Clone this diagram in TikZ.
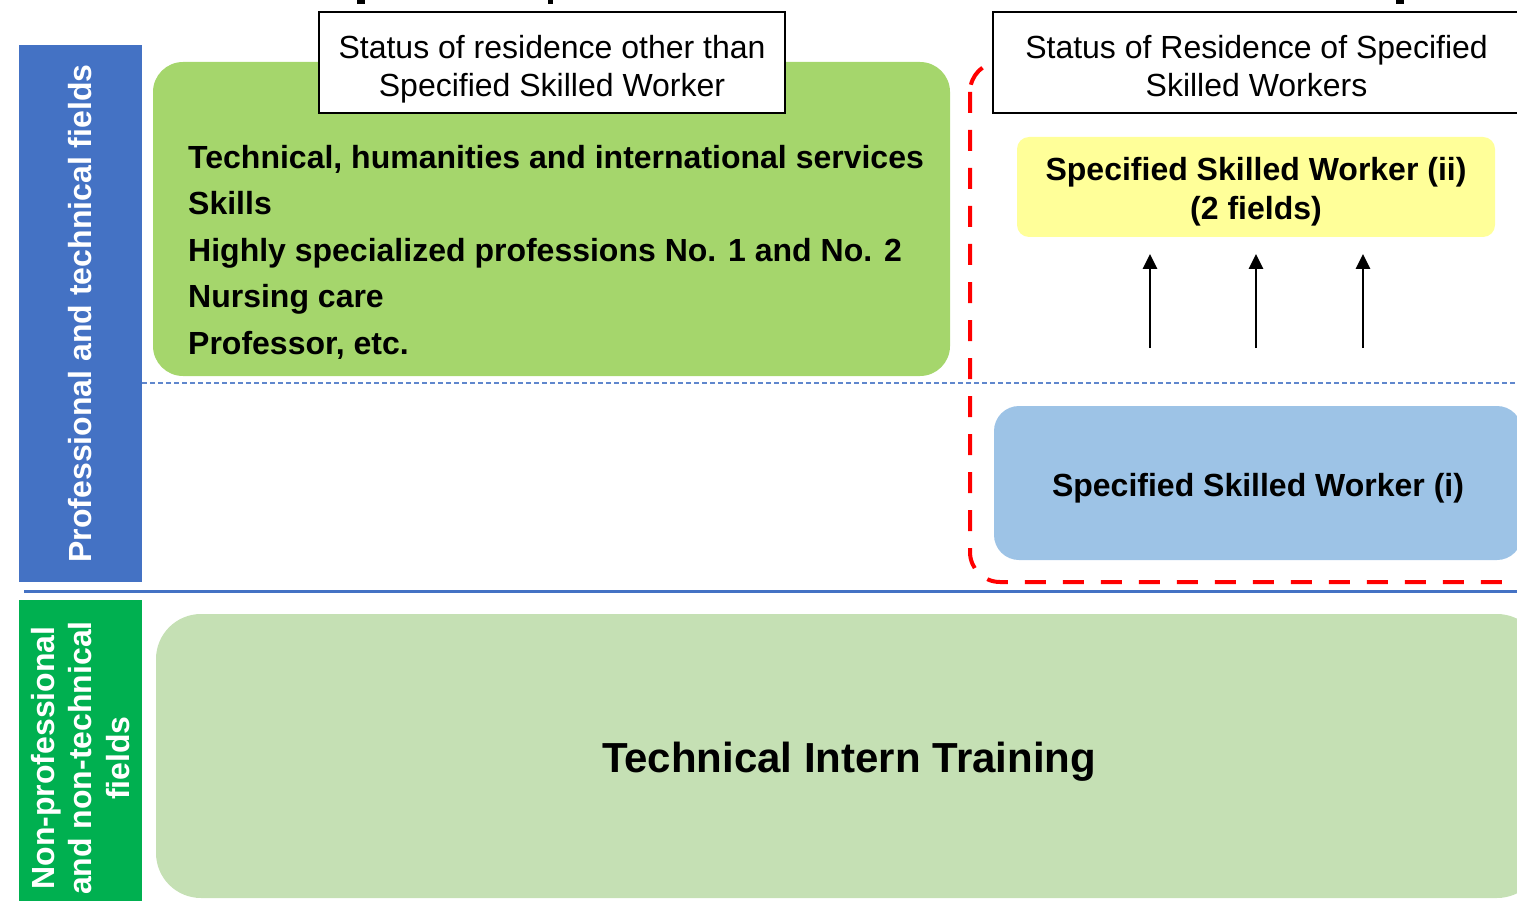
\documentclass[tikz,border=0pt]{standalone}
\usepackage{fontspec}
\setmainfont{Liberation Sans}
\usetikzlibrary{arrows.meta}
\usetikzlibrary{positioning}

\definecolor{profblue}{HTML}{4472C4}
\definecolor{nonprofgreen}{HTML}{00B050}
\definecolor{statusgreen}{HTML}{A5D66C}
\definecolor{internGreen}{HTML}{C5E0B4}
\definecolor{sswblue}{HTML}{9DC3E6}
\definecolor{sswyellow}{HTML}{FFFF99}

\begin{document}
\begin{tikzpicture}[>=Triangle, x=1pt, y=-1pt,
    field/.style={rotate=90, text=white, inner sep=0pt, align=center,
        font=\bfseries\fontsize{32}{37.5}\selectfont},
    header/.style={draw=black, line width=1.5pt, fill=white, inner sep=0pt},
    headertext/.style={align=center, inner sep=0pt, font=\fontsize{32}{38}\selectfont},
    statusbox/.style={rounded corners=#1, inner sep=0pt},
    statustext/.style={align=center, inner sep=0pt, font=\bfseries\fontsize{32}{39}\selectfont},
    uparrow/.style={->, line width=2.8pt, >={Triangle[length=15pt,width=14pt]}}]

    \useasboundingbox (0,0) rectangle (1517,901);
    \clip (0,0) rectangle (1517,901);

    % pieces of the title above, cut off
    \fill (357,0) rectangle (365,4);
    \fill (548,0) rectangle (553,4);
    \fill (1396,0) rectangle (1404,4);

    % left column
    \node[field, fill=profblue, minimum width=537pt, minimum height=123pt] (prof) at (80.5,313.5)
        {Professional and technical fields};
    \node[field, fill=nonprofgreen, minimum width=316pt, minimum height=123pt] (nonprof) at (80.5,758)
        {Non-professional\\and non-technical\\fields};

    \draw[profblue!85!white, line width=1.3pt, dash pattern=on 5pt off 3pt] (142,383) -- (1517,383);
    \draw[profblue, line width=3pt] (24,591) -- (1517,591);

    % other statuses
    \node[statusbox=30pt, fill=statusgreen, minimum width=797pt, minimum height=314pt] (other) at (551.5,219) {};
    \node[anchor=west, align=left, inner sep=0pt, font=\bfseries\fontsize{32}{46.5}\selectfont] (skills) at (188,252)
        {Technical, humanities and international services\\Skills\\Highly specialized professions No. 1 and No. 2\\Nursing care\\Professor, etc.};
    \node[header, minimum width=466pt, minimum height=101pt] (hdrother) at (552,62.5) {};
    \node[headertext] (hdrothertext) at ([yshift=-7pt]hdrother.center)
        {Status of residence other than\\Specified Skilled Worker};

    % specified skilled workers
    \draw[red, line width=4pt, dash pattern=on 21pt off 17pt, rounded corners=30pt] (970,62) rectangle (1535,582);
    \node[header, minimum width=527pt, minimum height=101pt] (hdrssw) at (1256.5,62.5) {};
    \node[headertext] (hdrsswtext) at ([yshift=-4pt]hdrssw.center)
        {Status of Residence of Specified\\Skilled Workers};
    \node[statusbox=12pt, fill=sswyellow, minimum width=478pt, minimum height=100pt] (ssw2) at (1256,187) {};
    \node[statustext] (ssw2text) at ([yshift=-5pt]ssw2.center) {Specified Skilled Worker (ii)\\(2 fields)};
    \node[statusbox=25pt, fill=sswblue, minimum width=528pt, minimum height=154pt] (ssw1) at (1258,483) {};
    \node[statustext] (ssw1text) at ([yshift=-5pt]ssw1.center) {Specified Skilled Worker (i)};

    \foreach \ax [count=\i] in {1150,1256,1363} {
        \coordinate (tail\i) at (\ax,348);
        \coordinate (tip\i) at (\ax,254);
        \draw[uparrow] (tail\i) -- (tip\i);
    }

    % technical intern training
    \node[statusbox=45pt, fill=internGreen, minimum width=1386pt, minimum height=284pt] (intern) at (849,756) {};
    \node[statustext, font=\bfseries\fontsize{42}{50}\selectfont] (interntext) at ([yshift=-6pt]intern.center)
        {Technical Intern Training};

\end{tikzpicture}
\end{document}
